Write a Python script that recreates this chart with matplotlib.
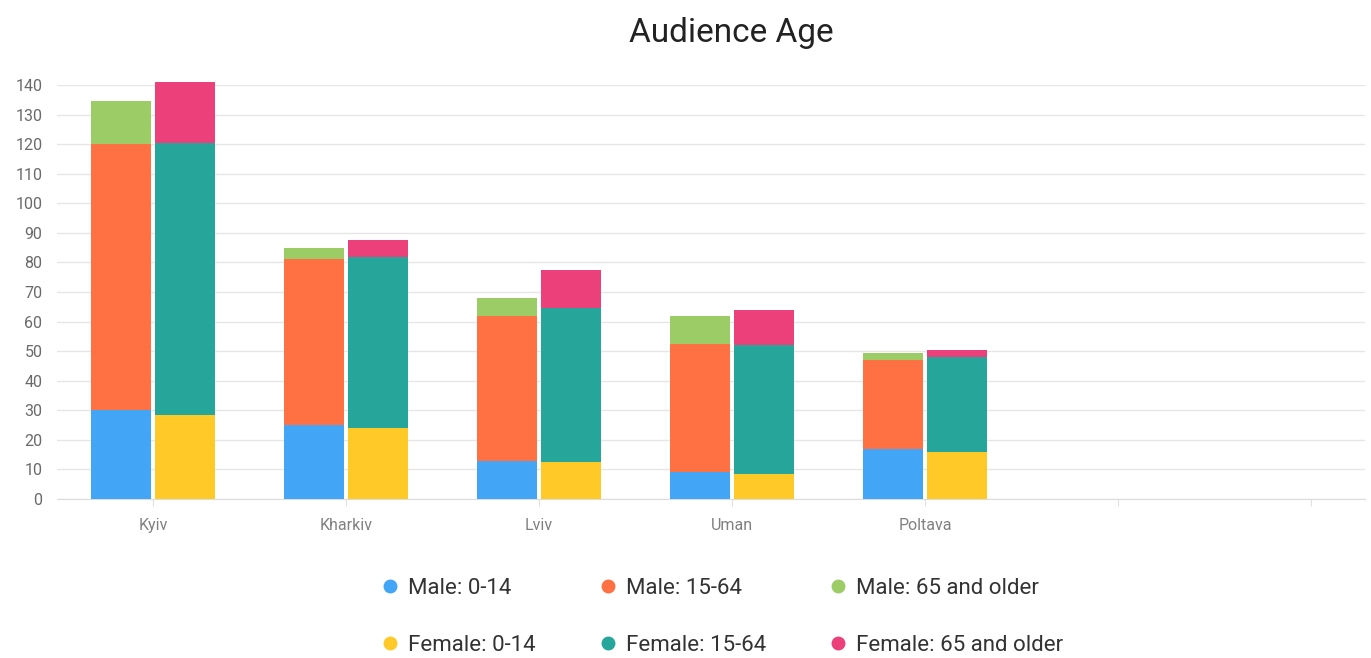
import matplotlib
matplotlib.use("Agg")
import matplotlib.pyplot as plt
import numpy as np
from matplotlib.lines import Line2D

plt.rcParams['font.family'] = ['Roboto', 'DejaVu Sans']

cities = ['Kyiv', 'Kharkiv', 'Lviv', 'Uman', 'Poltava', '', '']
male_0_14 = [30, 25, 13, 9, 17]
male_15_64 = [90, 56, 49, 43.5, 30]
male_65 = [14.5, 4, 6, 9.5, 2.5]
female_0_14 = [28.5, 24, 12.5, 8.5, 16]
female_15_64 = [92, 58, 52, 43.5, 32]
female_65 = [20.5, 5.5, 13, 12, 2.5]

series_labels = ['Male: 0-14', 'Male: 15-64', 'Male: 65 and older',
                 'Female: 0-14', 'Female: 15-64', 'Female: 65 and older']
colors = ['#42A5F5', '#FF7043', '#9CCC65', '#FFCA28', '#26A69A', '#EC407A']

fig = plt.figure(figsize=(13.71, 6.58), dpi=100)
ax = fig.add_axes([57/1371, (658-499)/658, (1365-57)/1371, (499-85)/658])

n = len(male_0_14)
x = np.arange(n)
w = 0.31
off = 0.165

def stack(xpos, parts, cols):
    bottom = np.zeros(n)
    for vals, c in zip(parts, cols):
        ax.bar(xpos, vals, w, bottom=bottom, color=c, zorder=3, clip_on=False, linewidth=0)
        bottom = bottom + np.array(vals)

stack(x - off, [male_0_14, male_15_64, male_65], colors[:3])
stack(x + off, [female_0_14, female_15_64, female_65], colors[3:])

ax.set_xlim(-0.497, 6.28)
ax.set_ylim(0, 140)
ax.set_yticks(np.arange(0, 141, 10))
ax.set_xticks(np.arange(len(cities)))
ax.set_xticklabels(cities)
ax.grid(axis='y', color='#e6e6e6', linewidth=1, zorder=0)
for s in ['top', 'right', 'left']:
    ax.spines[s].set_visible(False)
ax.spines['bottom'].set_color('#dcdcdc')
ax.tick_params(axis='y', length=0, pad=10.5, labelsize=11.5, labelcolor='#6a6a6a')
ax.tick_params(axis='x', length=5, color='#e0e0e0', pad=9, labelsize=11.5, labelcolor='#808080')

fig.text(731/1371, 1 - 33/658, 'Audience Age', ha='center', va='center', fontsize=24, color='#222222')

order = [0, 3, 1, 4, 2, 5]
handles = [Line2D([0], [0], marker='o', linestyle='none', markersize=9,
                  markerfacecolor=colors[i], markeredgecolor=colors[i]) for i in order]
labels = [series_labels[i] for i in order]
fig.legend(handles, labels, ncol=3, loc='center', bbox_to_anchor=(720/1371, 1 - 617/658),
           frameon=False, fontsize=16, labelspacing=1.6, columnspacing=2.65,
           handletextpad=0.22, handlelength=1.2, labelcolor='#333333')

fig.savefig('out.png', dpi=100)
